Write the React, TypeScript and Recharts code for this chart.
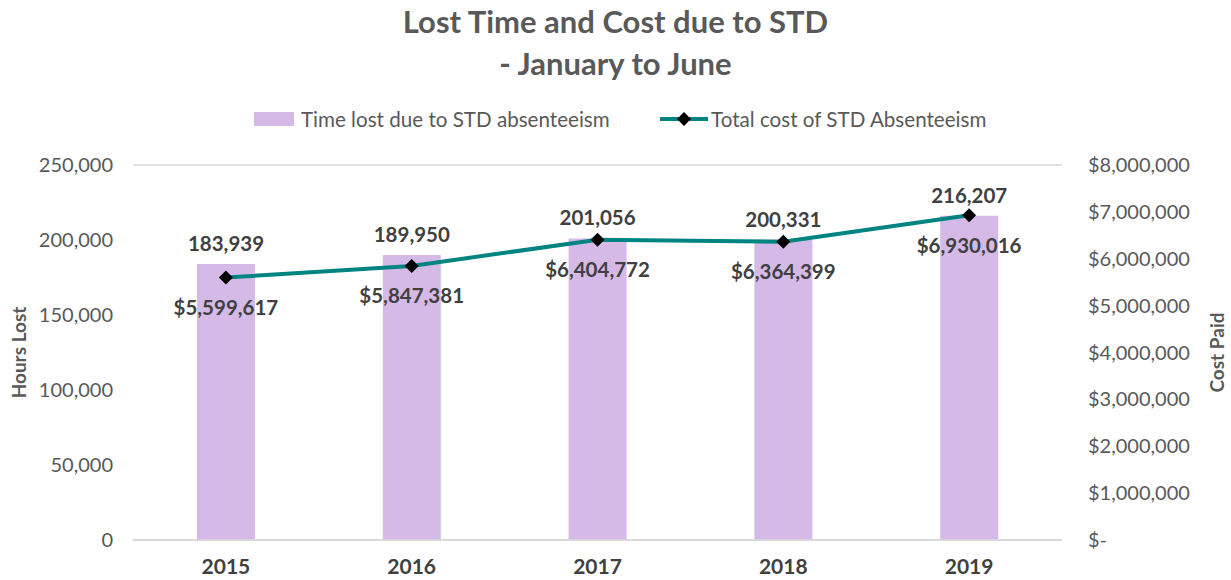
import React from 'react';
import { ComposedChart, Bar, Line, XAxis, YAxis, CartesianGrid, LabelList } from 'recharts';

const years = ['2015', '2016', '2017', '2018', '2019'];
const hoursLost = [183939, 189950, 201056, 200331, 216207];
const costPaid = [5599617, 5847381, 6404772, 6364399, 6930016];
const leftTicks = [0, 50000, 100000, 150000, 200000, 250000];
const rightTicks = [0, 1000000, 2000000, 3000000, 4000000, 5000000, 6000000, 7000000, 8000000];
const barName = 'Time lost due to STD absenteeism';
const lineName = 'Total cost of STD Absenteeism';
const titleLines = ['Lost Time and Cost due to STD', '- January to June'];

const data = years.map((y, i) => ({ year: y, hours: hoursLost[i], cost: costPaid[i] }));

const FONT = 'Lato, "Open Sans", sans-serif';
const BAR_COLOR = '#D5BAE8';
const LINE_COLOR = '#008481';
const TEXT = '#595959';
const DARK = '#404040';

const fmt = (v: number) => v.toLocaleString('en-US');
const fmtDollar = (v: number) => (v === 0 ? '$-' : '$' + v.toLocaleString('en-US'));

const Diamond = (props: any) => {
  const { cx, cy } = props;
  if (cx == null || cy == null) return null;
  const r = 7;
  return <path d={`M${cx},${cy - r}L${cx + r},${cy}L${cx},${cy + r}L${cx - r},${cy}Z`} fill="#000" />;
};

export default function App() {
  return (
    <div style={{ position: 'absolute', left: 0, top: 0, width: 1231, height: 580, background: '#fff', fontFamily: FONT }}>
      <div style={{ position: 'absolute', left: 0, top: 0, width: 1231, textAlign: 'center', color: TEXT, fontWeight: 700, fontSize: 31, lineHeight: '42px' }}>
        {titleLines.map((t) => (
          <div key={t}>{t}</div>
        ))}
      </div>
      <div style={{ position: 'absolute', top: 106, left: 0, width: 1231, height: 26, color: TEXT, fontSize: 20.6 }}>
        <div style={{ position: 'absolute', left: 254, top: 6, width: 40, height: 14, background: BAR_COLOR }} />
        <div style={{ position: 'absolute', left: 301, top: 0, lineHeight: '26px', whiteSpace: 'nowrap' }}>{barName}</div>
        <svg style={{ position: 'absolute', left: 658, top: 0 }} width={52} height={26}>
          <line x1={2} y1={13} x2={50} y2={13} stroke={LINE_COLOR} strokeWidth={4} />
          <path d="M26,6L33,13L26,20L19,13Z" fill="#000" />
        </svg>
        <div style={{ position: 'absolute', left: 711, top: 0, lineHeight: '26px', whiteSpace: 'nowrap' }}>{lineName}</div>
      </div>
      <div style={{ position: 'absolute', left: 0, top: 0 }}>
        <ComposedChart width={1231} height={580} data={data} margin={{ top: 165, right: 0, bottom: 0, left: 0 }}>
          <CartesianGrid vertical={false} stroke="#D9D9D9" strokeWidth={1.5} />
          <XAxis
            dataKey="year"
            height={40}
            axisLine={{ stroke: '#D9D9D9', strokeWidth: 1.5 }}
            tickLine={false}
            tickMargin={13}
            tick={{ fill: DARK, fontSize: 21, fontWeight: 700, fontFamily: FONT }}
          />
          <YAxis
            yAxisId="left"
            orientation="left"
            width={133}
            domain={[0, 250000]}
            ticks={leftTicks}
            tickFormatter={fmt}
            axisLine={false}
            tickLine={false}
            tickMargin={14}
            tick={{ fill: TEXT, fontSize: 20, fontFamily: FONT }}
            label={{ value: 'Hours Lost', angle: -90, position: 'insideLeft', offset: 19, style: { textAnchor: 'middle', fill: TEXT, fontSize: 19, fontWeight: 700, fontFamily: FONT } }}
          />
          <YAxis
            yAxisId="right"
            orientation="right"
            width={169}
            domain={[0, 8000000]}
            ticks={rightTicks}
            tickFormatter={fmtDollar}
            axisLine={false}
            tickLine={false}
            tickMargin={20}
            tick={{ fill: TEXT, fontSize: 20, fontFamily: FONT }}
            label={{ value: 'Cost Paid', angle: -90, position: 'insideRight', offset: 14, style: { textAnchor: 'middle', fill: TEXT, fontSize: 19, fontWeight: 700, fontFamily: FONT } }}
          />
          <Bar yAxisId="left" dataKey="hours" name={barName} fill={BAR_COLOR} barSize={58} isAnimationActive={false}>
            <LabelList dataKey="hours" position="top" offset={13} formatter={(v: any) => fmt(Number(v))} style={{ fill: DARK, fontSize: 20.5, fontWeight: 700, fontFamily: FONT }} />
          </Bar>
          <Line yAxisId="right" dataKey="cost" name={lineName} stroke={LINE_COLOR} strokeWidth={4} dot={<Diamond />} activeDot={false} isAnimationActive={false}>
            <LabelList dataKey="cost" position="bottom" offset={23} formatter={(v: any) => fmtDollar(Number(v))} style={{ fill: DARK, fontSize: 20.5, fontWeight: 700, fontFamily: FONT }} />
          </Line>
        </ComposedChart>
      </div>
    </div>
  );
}
